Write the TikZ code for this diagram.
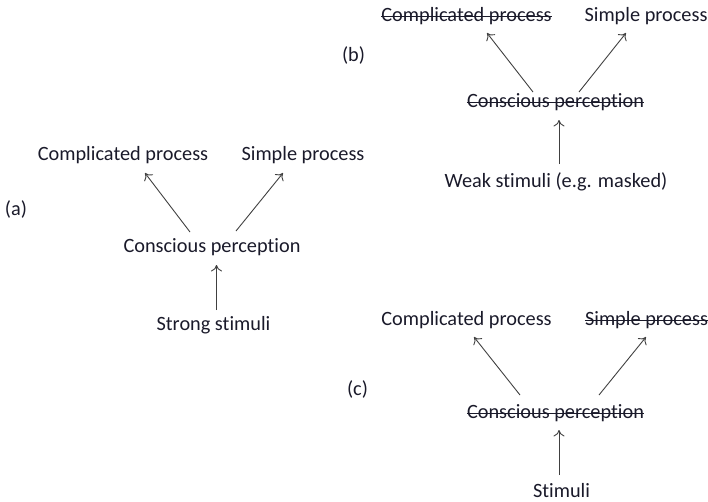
\documentclass[tikz,border=0pt]{standalone}
\usepackage{fontspec}
\setmainfont{Carlito}[Ligatures={NoCommon,NoContextual}]
\usetikzlibrary{arrows.meta}
\definecolor{txt}{HTML}{1A1A2A}
\definecolor{ln}{HTML}{404040}
\begin{document}
\begin{tikzpicture}[x=1pt,y=-1pt,
  lbl/.style={inner sep=0pt,text=txt,font=\fontsize{20.3}{23}\selectfont},
  strk/.style={draw=txt,line width=0.9pt},
  arr/.style={draw=ln,line width=0.9pt,-{To[length=6.5pt,width=11pt]}}]
\useasboundingbox (0,0) rectangle (708,501);
% (a)
\node[lbl] (acp) at (123,155) {Complicated process};
\node[lbl] (asp) at (303,155) {Simple process};
\node[lbl] (alab) at (16,209) {(a)};
\node[lbl] (acon) at (212,247) {Conscious perception};
\node[lbl] (ast) at (213.5,325) {Strong stimuli};
\coordinate (a1) at (190,232); \coordinate (a1t) at (145,173);
\coordinate (a2) at (236,231); \coordinate (a2t) at (283,173);
\coordinate (a3) at (216.5,310); \coordinate (a3t) at (216.5,265);
\draw[arr] (a1) -- (a1t);
\draw[arr] (a2) -- (a2t);
\draw[arr] (a3) -- (a3t);
% (b)
\node[lbl] (bcp) at (466.5,16) {Complicated process};
\node[lbl] (bsp) at (646,16) {Simple process};
\node[lbl] (blab) at (353.5,55) {(b)};
\node[lbl] (bcon) at (555.5,102) {Conscious perception};
\node[lbl] (bst) at (556,182) {Weak stimuli (e.g. masked)};
\draw[strk] ([yshift=5pt]bcp.base west) -- ([yshift=5pt]bcp.base east);
\draw[strk] ([yshift=5pt]bcon.base west) -- ([yshift=5pt]bcon.base east);
\coordinate (b1) at (533,92); \coordinate (b1t) at (487,33);
\coordinate (b2) at (579,92); \coordinate (b2t) at (626,33);
\coordinate (b3) at (559,164); \coordinate (b3t) at (559,120);
\draw[arr] (b1) -- (b1t);
\draw[arr] (b2) -- (b2t);
\draw[arr] (b3) -- (b3t);
% (c)
\node[lbl] (ccp) at (466.5,320) {Complicated process};
\node[lbl] (csp) at (646.5,320) {Simple process};
\node[lbl] (clab) at (357.5,389) {(c)};
\node[lbl] (ccon) at (555.5,413) {Conscious perception};
\node[lbl] (cst) at (561.5,491) {Stimuli};
\draw[strk] ([yshift=5pt]csp.base west) -- ([yshift=5pt]csp.base east);
\draw[strk] ([yshift=5pt]ccon.base west) -- ([yshift=5pt]ccon.base east);
\coordinate (c1) at (520,395); \coordinate (c1t) at (474,337);
\coordinate (c2) at (599,395); \coordinate (c2t) at (646,337);
\coordinate (c3) at (559,475); \coordinate (c3t) at (559,430);
\draw[arr] (c1) -- (c1t);
\draw[arr] (c2) -- (c2t);
\draw[arr] (c3) -- (c3t);
\end{tikzpicture}
\end{document}
